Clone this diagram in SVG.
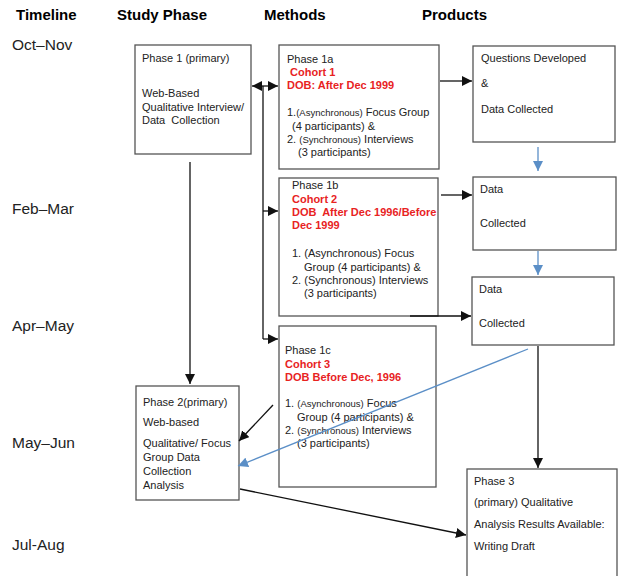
<svg xmlns="http://www.w3.org/2000/svg" width="624" height="576" viewBox="0 0 624 576">
<style>
text{font-family:"Liberation Sans",Arial,sans-serif;fill:#222;}
.h{font-size:15px;font-weight:bold;fill:#000;}
.t{font-size:15.5px;fill:#222;}
.n{font-size:11px;}
.r{font-size:11px;font-weight:bold;fill:#e8231f;}
.s{font-size:9.5px;}
.box{fill:#fff;stroke:#555;stroke-width:1.3;}
.c{stroke:#111;stroke-width:1.3;fill:none;}
.b{stroke:#5b8fc7;stroke-width:1.3;fill:none;}
</style>
<defs>
<marker id="ak" markerUnits="userSpaceOnUse" markerWidth="10" markerHeight="10" refX="8" refY="4" orient="auto-start-reverse" viewBox="0 0 8 8"><path d="M0,0 L8,4 L0,8 z" fill="#111"/></marker>
<marker id="ab" markerUnits="userSpaceOnUse" markerWidth="10" markerHeight="10" refX="8" refY="4" orient="auto" viewBox="0 0 8 8"><path d="M0,0 L8,4 L0,8 z" fill="#5b8fc7"/></marker>
</defs>
<rect width="624" height="576" fill="#fff"/>
<g id="headers">
<text class="h" x="16" y="20">Timeline</text>
<text class="h" x="117" y="20">Study Phase</text>
<text class="h" x="264" y="20">Methods</text>
<text class="h" x="422" y="20">Products</text>
</g>
<g id="timeline">
<text class="t" x="12" y="50">Oct–Nov</text>
<text class="t" x="12" y="214">Feb–Mar</text>
<text class="t" x="12" y="331">Apr–May</text>
<text class="t" x="12" y="448">May–Jun</text>
<text class="t" x="12" y="550">Jul-Aug</text>
</g>
<g id="phase1">
<rect class="box" x="135" y="45" width="116" height="109"/>
<text class="n" x="142" y="62">Phase 1 (primary)</text>
<text class="n" x="142" y="97">Web-Based</text>
<text class="n" x="142" y="111">Qualitative Interview/</text>
<text class="n" x="142" y="124" xml:space="preserve">Data  Collection</text>
</g>
<g id="phase1a">
<rect class="box" x="279" y="45" width="160" height="124"/>
<text class="n" x="287" y="63">Phase 1a</text>
<text class="r" x="287" y="76" xml:space="preserve"> Cohort 1</text>
<text class="r" x="287" y="89">DOB: After Dec 1999</text>
<text class="n" x="287" y="116">1.<tspan class="s">(Asynchronous)</tspan> Focus Group</text>
<text class="n" x="292" y="130">(4 participants) &amp;</text>
<text class="n" x="287" y="143">2. <tspan class="s">(Synchronous)</tspan> Interviews</text>
<text class="n" x="298" y="156">(3 participants)</text>
</g>
<g id="phase1b">
<rect class="box" x="279" y="178" width="159" height="138"/>
<text class="n" x="292" y="189">Phase 1b</text>
<text class="r" x="292" y="203">Cohort 2</text>
<text class="r" x="292" y="216" xml:space="preserve">DOB  After Dec 1996/Before</text>
<text class="r" x="292" y="229">Dec 1999</text>
<text class="n" x="292" y="257">1. (Asynchronous) Focus</text>
<text class="n" x="304" y="271">Group (4 participants) &amp;</text>
<text class="n" x="292" y="284">2. (Synchronous) Interviews</text>
<text class="n" x="304" y="297">(3 participants)</text>
</g>
<g id="phase1c">
<rect class="box" x="279" y="326" width="157" height="161"/>
<text class="n" x="285" y="354">Phase 1c</text>
<text class="r" x="285" y="368">Cohort 3</text>
<text class="r" x="285" y="381">DOB Before Dec, 1996</text>
<text class="n" x="285" y="407">1. <tspan class="s">(Asynchronous)</tspan> Focus</text>
<text class="n" x="297" y="421">Group (4 participants) &amp;</text>
<text class="n" x="285" y="434">2. <tspan class="s">(Synchronous)</tspan> Interviews</text>
<text class="n" x="297" y="447">(3 participants)</text>
</g>
<g id="phase2">
<rect class="box" x="136" y="386" width="103" height="114"/>
<text class="n" x="143" y="406">Phase 2(primary)</text>
<text class="n" x="143" y="426">Web-based</text>
<text class="n" x="143" y="447">Qualitative/ Focus</text>
<text class="n" x="143" y="461">Group Data</text>
<text class="n" x="143" y="475">Collection</text>
<text class="n" x="143" y="489">Analysis</text>
</g>
<g id="questions">
<rect class="box" x="473" y="46" width="142" height="96"/>
<text class="n" x="481" y="62">Questions Developed</text>
<text class="n" x="481" y="87">&amp;</text>
<text class="n" x="481" y="113">Data Collected</text>
</g>
<g id="data1">
<rect class="box" x="473" y="177" width="143" height="73"/>
<text class="n" x="480" y="193">Data</text>
<text class="n" x="480" y="227">Collected</text>
</g>
<g id="data2">
<rect class="box" x="472" y="277" width="142" height="68"/>
<text class="n" x="479" y="293">Data</text>
<text class="n" x="479" y="327">Collected</text>
</g>
<g id="phase3">
<rect class="box" x="467" y="469" width="150" height="112"/>
<text class="n" x="474" y="485">Phase 3</text>
<text class="n" x="474" y="506">(primary) Qualitative</text>
<text class="n" x="474" y="528">Analysis Results Available:</text>
<text class="n" x="474" y="550">Writing Draft</text>
</g>
<g id="connectors">
<line class="c" x1="252" y1="86" x2="278" y2="86" marker-start="url(#ak)" marker-end="url(#ak)"/>
<line class="c" x1="263" y1="86" x2="263" y2="339"/>
<line class="c" x1="263" y1="211" x2="278" y2="211" marker-end="url(#ak)"/>
<line class="c" x1="263" y1="339" x2="278" y2="339" marker-end="url(#ak)"/>
<line class="c" x1="440" y1="81" x2="472" y2="81" marker-end="url(#ak)"/>
<line class="c" x1="441" y1="195" x2="472" y2="195" marker-end="url(#ak)"/>
<line class="c" x1="410" y1="316" x2="471" y2="316" marker-end="url(#ak)"/>
<line class="b" x1="538" y1="147" x2="538" y2="171" marker-end="url(#ab)"/>
<line class="b" x1="538" y1="251" x2="538" y2="275" marker-end="url(#ab)"/>
<line class="c" x1="538" y1="346" x2="538" y2="468" marker-end="url(#ak)"/>
<line class="b" x1="528" y1="349" x2="238" y2="466" marker-end="url(#ab)"/>
<line class="c" x1="273" y1="405" x2="239" y2="441" marker-end="url(#ak)"/>
<line class="c" x1="190" y1="162" x2="190" y2="384" marker-end="url(#ak)"/>
<line class="c" x1="240" y1="489" x2="466" y2="535" marker-end="url(#ak)"/>
</g>
</svg>
